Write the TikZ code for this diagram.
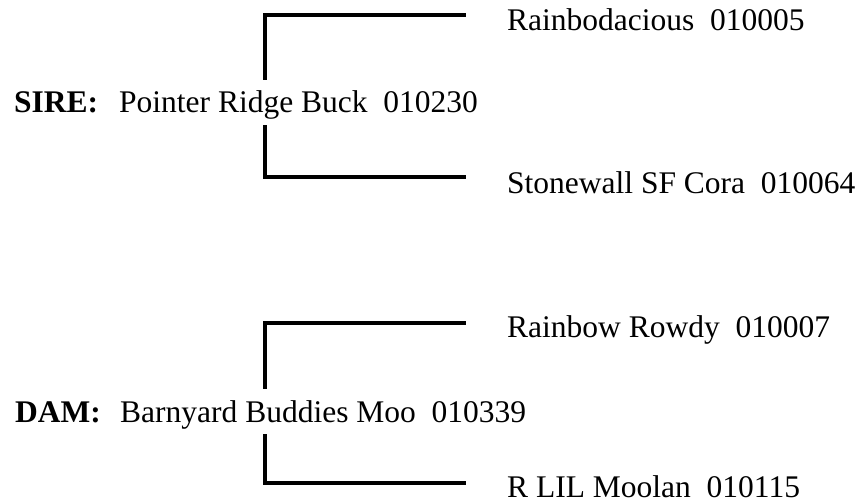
\documentclass[tikz,border=0pt]{standalone}
\usepackage{fontspec}
\setmainfont{Liberation Serif}
\begin{document}
\begin{tikzpicture}[x=1pt, y=-1pt,
        lbl/.style={anchor=base west, inner sep=0pt, font=\fontsize{31.5}{36}\selectfont},
        tag/.style={lbl, font=\fontsize{31.5}{36}\selectfont\bfseries},
        namebox/.style={lbl, text height=33pt, text depth=12pt},
        bracket/.style={line width=4pt}]
        \useasboundingbox (0, 0) rectangle (860, 503);
        \node[tag] (sireTag) at (14, 113) {SIRE:};
        \node[namebox] (sireName) at (119, 113) {Pointer Ridge Buck\ \ 010230};
        \node[lbl] (sireSire) at (507, 31) {Rainbodacious\ \ 010005};
        \node[lbl] (sireDam) at (507, 193) {Stonewall SF Cora\ \ 010064};
        \coordinate (sireUp) at (466, 15);
        \coordinate (sireDown) at (466, 177);
        \draw[bracket] (sireName.north -| 265, 0) |- (sireUp);
        \draw[bracket] (sireName.south -| 265, 0) |- (sireDown);
        \node[tag] (damTag) at (15, 422) {DAM:};
        \node[namebox] (damName) at (120, 422) {Barnyard Buddies Moo\ \ 010339};
        \node[lbl] (damSire) at (507, 337) {Rainbow Rowdy\ \ 010007};
        \node[lbl] (damDam) at (507, 497) {R LIL Moolan\ \ 010115};
        \coordinate (damUp) at (466, 323);
        \coordinate (damDown) at (466, 483);
        \draw[bracket] (damName.north -| 265, 0) |- (damUp);
        \draw[bracket] (damName.south -| 265, 0) |- (damDown);
    \end{tikzpicture}
\end{document}
